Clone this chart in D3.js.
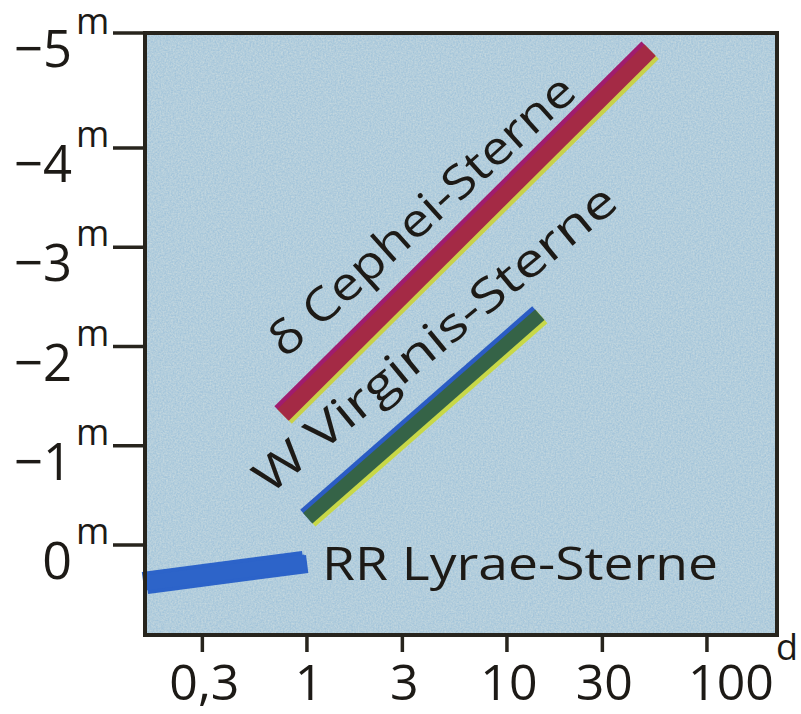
<!DOCTYPE html>
<html>
<head>
<meta charset="utf-8">
<script src="https://cdn.jsdelivr.net/npm/d3@7"></script>
<style>
  body { margin: 0; background: #fff; }
  text { font-family: "Open Sans", "DejaVu Sans", sans-serif; fill: #1d1a16; }
</style>
</head>
<body>
<div id="chart"></div>
<script>
// period in days (log axis), absolute magnitude (brighter = up)
const periodTicks = [0.3, 1, 3, 10, 30, 100];
const periodLabels = ['0,3', '1', '3', '10', '30', '100'];
const magTicks = [0, -1, -2, -3, -4, -5];

const cepheids = [{ p: 0.76, m: -1.31 }, { p: 52, m: -4.85 }];
const wVirginis = [{ p: 1.01, m: -0.27 }, { p: 14.6, m: -2.32 }];
const rrLyrae = [{ p: 0.155, m: 0.38 }, { p: 0.98, m: 0.17 }];

const seriesNames = ['δ Cephei-Sterne', 'W Virginis-Sterne', 'RR Lyrae-Sterne'];
// where each name starts, in data units
const labelAnchors = [{ p: 0.78, m: -1.87 }, { p: 0.65, m: -0.5 }, { p: 1.19, m: 0.35 }];

var svgwidth = 801;
var svgheight = 714;

var svg = d3.select('#chart')
    .append('svg')
    .attr('width', svgwidth)
    .attr('height', svgheight);

var x = d3.scaleLog()
    .domain([0.155, 224])
    .range([145, 777]);

// the printed axis is slightly stretched at the top
var y = d3.scaleLinear()
    .domain([0.9, 0, -4, -5])
    .range([635, 545, 148, 33]);

// paper grain
var defs = svg.append('defs');
var grain = defs.append('filter').attr('id', 'grain');
grain.append('feTurbulence')
    .attr('type', 'fractalNoise')
    .attr('baseFrequency', 0.6)
    .attr('numOctaves', 2)
    .attr('seed', 4);
grain.append('feColorMatrix')
    .attr('values', '0 0 0 0 0.95  0 0 0 0 0.93  0 0 0 0 0.8  0 0 0 0.6 -0.12');
grain.append('feComposite').attr('in2', 'SourceGraphic').attr('operator', 'in');

var x0 = x.range()[0], x1 = x.range()[1];
var yTop = y(-5), yBottom = y(0.9);

svg.append('rect')
    .attr('x', x0).attr('y', yTop)
    .attr('width', x1 - x0).attr('height', yBottom - yTop)
    .attr('fill', '#a3c4da');
svg.append('rect')
    .attr('x', x0).attr('y', yTop)
    .attr('width', x1 - x0).attr('height', yBottom - yTop)
    .attr('fill', '#fff')
    .attr('filter', 'url(#grain)');

var line = d3.line()
    .x(d => x(d.p))
    .y(d => y(d.m));

function band(data, width, colors) {
    // colours: [upper-left fringe, lower-right fringe, core]
    svg.append('path').datum(data).attr('d', line)
        .attr('transform', 'translate(-2,-2)')
        .attr('stroke', colors[0]).attr('stroke-width', width).attr('fill', 'none');
    svg.append('path').datum(data).attr('d', line)
        .attr('transform', 'translate(2,2)')
        .attr('stroke', colors[1]).attr('stroke-width', width).attr('fill', 'none');
    svg.append('path').datum(data).attr('d', line)
        .attr('stroke', colors[2]).attr('stroke-width', width - 3).attr('fill', 'none');
}

band(cepheids, 19, ['#a01c6e', '#c9d14a', '#a42a45']);
band(wVirginis, 17, ['#2b5cc4', '#c8d848', '#356347']);
band(rrLyrae, 18, ['#2c63c9', '#2c63c9', '#2d64c9']);

// series names
var angles = [-42, -39.5, 0];
var lengths = [395, 455, 396];
seriesNames.forEach((name, i) => {
    var a = labelAnchors[i];
    svg.append('text')
        .attr('transform', `translate(${x(a.p)},${y(a.m)}) rotate(${angles[i]})`)
        .attr('font-size', 46)
        .attr('textLength', lengths[i])
        .attr('lengthAdjust', 'spacingAndGlyphs')
        .text(name);
});

// frame
var frameColor = '#27241d';
svg.append('rect')
    .attr('x', x0).attr('y', yTop)
    .attr('width', x1 - x0).attr('height', yBottom - yTop)
    .attr('fill', 'none')
    .attr('stroke', frameColor)
    .attr('stroke-width', 4);

// y axis ticks and labels
var fmt = d3.format('d');
magTicks.forEach(m => {
    svg.append('line')
        .attr('x1', 113).attr('x2', x0)
        .attr('y1', y(m)).attr('y2', y(m))
        .attr('stroke', frameColor).attr('stroke-width', 3.5);
    svg.append('text')
        .attr('x', 72).attr('y', y(m) + 34)
        .attr('text-anchor', 'end')
        .attr('font-size', 52)
        .attr('textLength', m === 0 ? null : 58)
        .attr('lengthAdjust', 'spacingAndGlyphs')
        .text(fmt(m));
    svg.append('text')
        .attr('x', 76).attr('y', Math.max(y(m) - 1, 34))
        .attr('font-size', 36)
        .text('m');
});

// x axis ticks and labels
periodTicks.forEach((p, i) => {
    svg.append('line')
        .attr('x1', x(p)).attr('x2', x(p))
        .attr('y1', yBottom).attr('y2', yBottom + 17)
        .attr('stroke', frameColor).attr('stroke-width', 3.5);
    svg.append('text')
        .attr('x', x(p) + (i === periodTicks.length - 1 ? 24 : 2))
        .attr('y', 700)
        .attr('text-anchor', 'middle')
        .attr('font-size', 50)
        .text(periodLabels[i]);
});

svg.append('text')
    .attr('x', 776).attr('y', 660)
    .attr('font-size', 36)
    .text('d');
</script>
</body>
</html>
